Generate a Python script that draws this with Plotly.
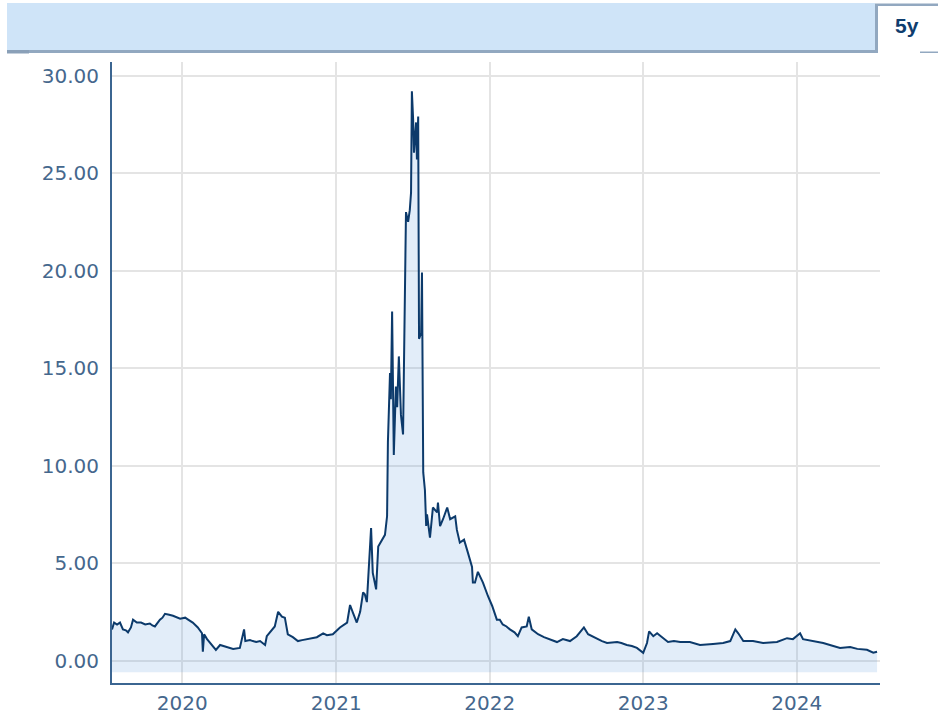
import plotly.graph_objects as go

dates = [
    "2019-07-18", "2019-07-23", "2019-07-30", "2019-08-06", "2019-08-13", "2019-08-20", "2019-08-25",
    "2019-09-01", "2019-09-06", "2019-09-15", "2019-09-25", "2019-10-05", "2019-10-16", "2019-10-22",
    "2019-10-28", "2019-11-09", "2019-11-15", "2019-11-21", "2019-12-01", "2019-12-10",
    "2019-12-27", "2020-01-08", "2020-01-15", "2020-01-26", "2020-02-07", "2020-02-17", "2020-02-19",
    "2020-02-22", "2020-02-29", "2020-03-06", "2020-03-12", "2020-03-21", "2020-03-31", "2020-04-08",
    "2020-04-16", "2020-04-24", "2020-05-01", "2020-05-17", "2020-05-27", "2020-05-30", "2020-06-10",
    "2020-06-17", "2020-06-25", "2020-07-04", "2020-07-16", "2020-07-20", "2020-08-01", "2020-08-08",
    "2020-08-16", "2020-08-25", "2020-09-01", "2020-09-08", "2020-09-20", "2020-10-02", "2020-10-12",
    "2020-10-23", "2020-11-05", "2020-11-16", "2020-12-01", "2020-12-10", "2020-12-24", "2021-01-10",
    "2021-01-27", "2021-02-03", "2021-02-10", "2021-02-19", "2021-02-27", "2021-03-06", "2021-03-10",
    "2021-03-15", "2021-03-18", "2021-03-25", "2021-03-29", "2021-04-06", "2021-04-11", "2021-04-20",
    "2021-04-27", "2021-05-02", "2021-05-04", "2021-05-09", "2021-05-11", "2021-05-14", "2021-05-18",
    "2021-05-23", "2021-05-26", "2021-05-30", "2021-06-04", "2021-06-09", "2021-06-14", "2021-06-16",
    "2021-06-21", "2021-06-25", "2021-06-28", "2021-06-30", "2021-07-03", "2021-07-05", "2021-07-10",
    "2021-07-12", "2021-07-15", "2021-07-17", "2021-07-22", "2021-07-24", "2021-07-27", "2021-07-31",
    "2021-08-03", "2021-08-05", "2021-08-12", "2021-08-19", "2021-08-29", "2021-08-31", "2021-09-05",
    "2021-09-12", "2021-09-22", "2021-09-29", "2021-10-11", "2021-10-15", "2021-10-22", "2021-11-01",
    "2021-11-10", "2021-11-15", "2021-11-20", "2021-11-22", "2021-11-27", "2021-12-04", "2021-12-16",
    "2021-12-28", "2022-01-07", "2022-01-18", "2022-01-25", "2022-02-01", "2022-02-10", "2022-02-18",
    "2022-03-01", "2022-03-09", "2022-03-18", "2022-03-30", "2022-04-04", "2022-04-11", "2022-04-26",
    "2022-05-10", "2022-05-24", "2022-06-10", "2022-06-24", "2022-07-11", "2022-07-27", "2022-08-13",
    "2022-08-23", "2022-09-13", "2022-09-25", "2022-10-07", "2022-10-31", "2022-11-10", "2022-11-23",
    "2022-12-05", "2022-12-17", "2023-01-01", "2023-01-10", "2023-01-15", "2023-01-25", "2023-02-03",
    "2023-02-15", "2023-03-01", "2023-03-15", "2023-03-30", "2023-04-22", "2023-05-16", "2023-06-16",
    "2023-07-10", "2023-07-27", "2023-08-08", "2023-08-15", "2023-08-27", "2023-09-19", "2023-10-13",
    "2023-11-15", "2023-12-09", "2023-12-23", "2024-01-09", "2024-01-16", "2024-02-09", "2024-03-04",
    "2024-03-28", "2024-04-13", "2024-05-07", "2024-05-24", "2024-06-16", "2024-07-01", "2024-07-10",
]
prices = [
    1.60, 1.95, 1.85, 1.95, 1.60, 1.55, 1.45,
    1.70, 2.10, 1.95, 1.95, 1.85, 1.90, 1.80,
    1.75, 2.10, 2.20, 2.40, 2.35, 2.30,
    2.15, 2.20, 2.10, 1.95, 1.70, 1.40, 0.45,
    1.35, 1.10, 0.95, 0.80, 0.55, 0.80, 0.75,
    0.70, 0.65, 0.60, 0.65, 1.60, 1.00, 1.05,
    1.00, 0.95, 1.00, 0.80, 1.25, 1.60, 1.75,
    2.50, 2.25, 2.20, 1.35, 1.20, 1.00, 1.05,
    1.10, 1.15, 1.20, 1.40, 1.30, 1.35, 1.70,
    1.95, 2.85, 2.45, 1.95, 2.50, 3.50, 3.40,
    3.00, 4.15, 6.80, 4.50, 3.65, 5.85, 6.20,
    6.45, 7.40, 11.20, 14.75, 13.40, 17.90, 10.55,
    14.05, 13.00, 15.60, 12.60, 11.60, 18.35, 23.00,
    22.50, 23.10, 24.00, 29.20, 27.75, 26.05, 27.60,
    25.70, 27.90, 16.50, 16.80, 19.90, 9.65, 8.75,
    6.90, 7.50, 6.30, 7.85, 7.60, 8.10, 6.90,
    7.25, 7.85, 7.25, 7.40, 6.70, 6.05, 6.20,
    5.55, 5.20, 4.80, 4.00, 4.00, 4.55, 4.00,
    3.30, 2.80, 2.10, 2.10, 1.85, 1.75, 1.60,
    1.45, 1.25, 1.70, 1.75, 2.25, 1.60, 1.35,
    1.20, 1.10, 0.95, 1.10, 1.00, 1.25, 1.70,
    1.35, 1.10, 1.00, 0.90, 0.95, 0.90, 0.80,
    0.75, 0.65, 0.40, 0.90, 1.50, 1.25, 1.40,
    1.20, 0.95, 1.00, 0.95, 0.95, 0.80, 0.85,
    0.90, 1.00, 1.60, 1.40, 1.00, 1.00, 0.90,
    0.95, 1.15, 1.10, 1.40, 1.10, 1.00, 0.90,
    0.75, 0.65, 0.70, 0.60, 0.55, 0.40, 0.45,
]
fill_base = -0.6
y_ticks = [0, 5, 10, 15, 20, 25, 30]
x_ticks = ["2020-01-01", "2021-01-01", "2022-01-01", "2023-01-01", "2024-01-01"]
x_tick_labels = ["2020", "2021", "2022", "2023", "2024"]
range_label = "5y"

W, H = 938, 715
L, R, T, B = 112, 880, 62, 683

def px(x):
    return (x - L) / (R - L)

def py(y):
    return (B - y) / (B - T)

fig = go.Figure()
fig.add_trace(go.Scatter(
    x=[dates[0], dates[-1]], y=[fill_base, fill_base],
    mode="lines", line=dict(width=0, color="rgba(0,0,0,0)"),
    hoverinfo="skip", showlegend=False,
))
fig.add_trace(go.Scatter(
    x=dates, y=prices, mode="lines",
    line=dict(color="#0c3a6b", width=2),
    fill="tonexty", fillcolor="rgba(74,144,217,0.16)",
    showlegend=False,
))

border = "#92a8c0"
shapes = [
    dict(type="rect", xref="paper", yref="paper", x0=px(7), x1=px(875), y0=py(50), y1=py(3),
         fillcolor="#cfe4f8", line=dict(width=0), layer="above"),
    dict(type="rect", xref="paper", yref="paper", x0=px(7), x1=px(878), y0=py(53), y1=py(50),
         fillcolor=border, line=dict(width=0)),
    dict(type="rect", xref="paper", yref="paper", x0=px(7), x1=px(29), y0=py(53.5), y1=py(50),
         fillcolor="#8aa0b8", line=dict(width=0)),
    dict(type="rect", xref="paper", yref="paper", x0=px(875), x1=px(878), y0=py(53), y1=py(4),
         fillcolor=border, line=dict(width=0)),
    dict(type="rect", xref="paper", yref="paper", x0=px(875), x1=px(938), y0=py(6), y1=py(3.5),
         fillcolor=border, line=dict(width=0)),
    dict(type="rect", xref="paper", yref="paper", x0=px(920), x1=px(938), y0=py(53), y1=py(51.5),
         fillcolor=border, line=dict(width=0)),
]

fig.update_layout(
    width=W, height=H,
    margin=dict(l=L, r=W - R, t=T, b=H - B, pad=0),
    paper_bgcolor="white", plot_bgcolor="white",
    shapes=shapes,
    annotations=[dict(text="<b>" + range_label + "</b>", xref="paper", yref="paper",
                      x=px(907), y=py(26), xanchor="center", yanchor="middle",
                      showarrow=False,
                      font=dict(family="Liberation Sans, Arial", size=21, color="#0f3d6e"))],
    xaxis=dict(
        type="date", range=["2019-07-18", "2024-07-17"],
        tickvals=x_ticks, ticktext=x_tick_labels,
        showgrid=True, gridcolor="#e4e4e4", gridwidth=1.5,
        showline=True, linecolor="#3b6591", linewidth=2,
        ticks="outside", ticklen=1, tickcolor="rgba(0,0,0,0)",
        tickfont=dict(family="DejaVu Sans", size=20, color="#45678d"),
        zeroline=False, fixedrange=True, automargin=False,
    ),
    yaxis=dict(
        range=[-1.15, 30.7],
        tickvals=y_ticks, tickformat=".2f",
        showgrid=True, gridcolor="#e4e4e4", gridwidth=1.5,
        showline=True, linecolor="#3b6591", linewidth=2,
        ticks="outside", ticklen=7, tickcolor="rgba(0,0,0,0)",
        tickfont=dict(family="DejaVu Sans", size=20, color="#45678d"),
        zeroline=False, fixedrange=True, automargin=False,
    ),
)

# remove the page's default body margin so the figure sits at the window origin
fig.write_html("out.html", config={"displayModeBar": False},
               post_script="document.body.style.margin='0';")
